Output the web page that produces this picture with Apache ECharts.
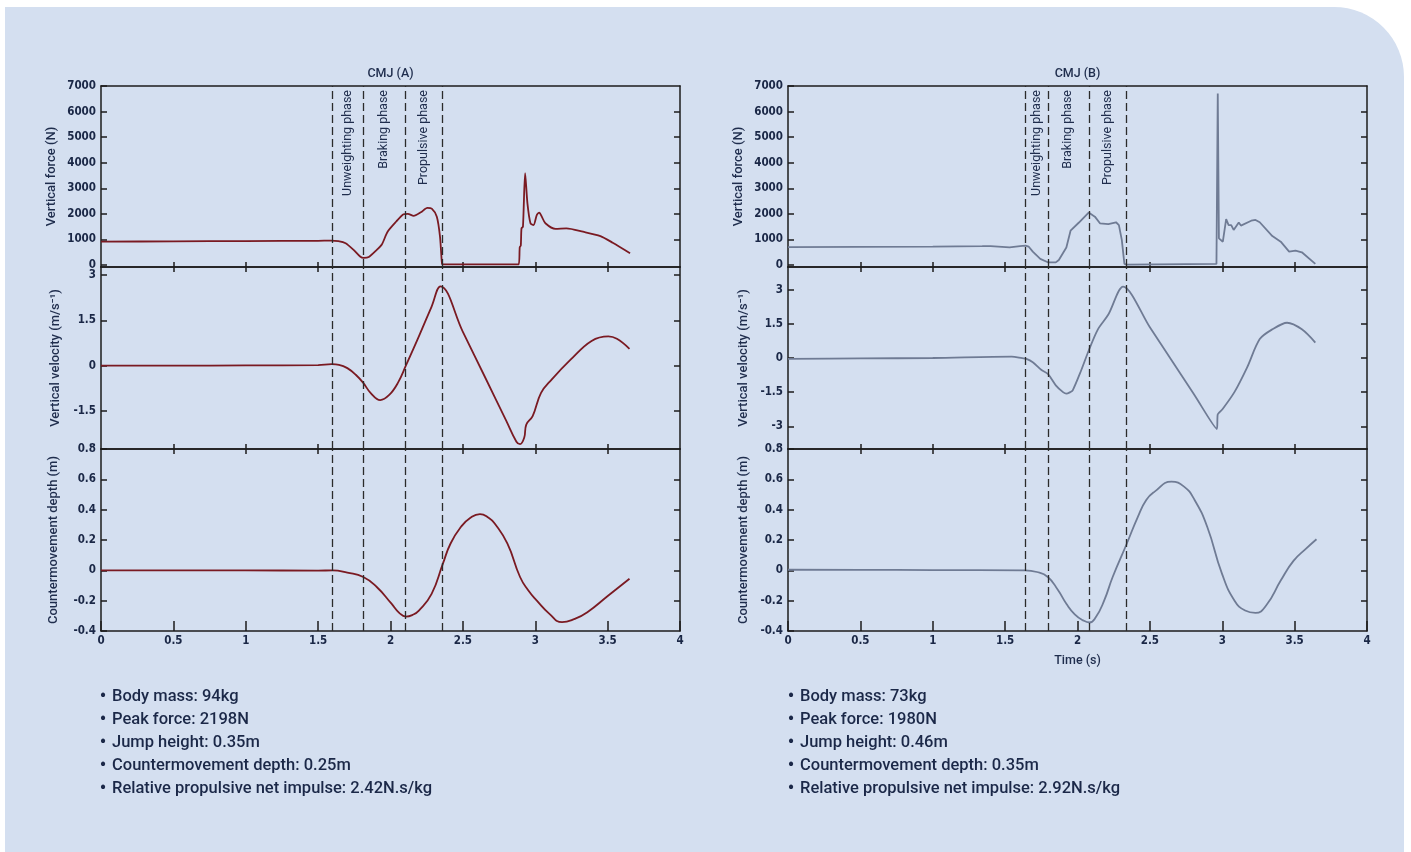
<!DOCTYPE html>
<html><head><meta charset="utf-8">
<script src="https://cdn.jsdelivr.net/npm/echarts@6/dist/echarts.min.js"></script>
<style>
html,body{margin:0;padding:0;background:#fff;width:1411px;height:852px;overflow:hidden;}
#panel{position:absolute;left:5px;top:7px;width:1399px;height:845px;background:#d4dff0;border-top-right-radius:70px;}
#chart{position:absolute;left:0;top:0;width:1411px;height:852px;}
</style></head><body><div id="panel"></div><div id="chart"></div>
<script>
// ---------- data ----------
const titleA = 'CMJ (A)';
const titleB = 'CMJ (B)';
const phaseNames = ['Unweighting phase', 'Braking phase', 'Propulsive phase'];
const phasesA = [1.6, 1.81, 2.105, 2.36];
const phasesB = [1.642, 1.796, 2.077, 2.342];

const forceA = [[0,910],[0.5,925],[1.0,935],[1.5,945],[1.59,955],[1.64,930],[1.69,850],[1.745,590],[1.79,330],[1.815,275],[1.85,310],[1.9,560],[1.94,800],[1.98,1300],[2.04,1700],[2.09,1980],[2.12,2000],[2.16,1920],[2.21,2060],[2.255,2230],[2.285,2200],[2.32,1890],[2.342,1110],[2.356,40],[2.365,25],[2.885,25],[2.893,700],[2.9,750],[2.905,1430],[2.915,1500],[2.93,3590],[2.946,2410],[2.967,1630],[2.988,1560],[3.011,1960],[3.028,2050],[3.045,1890],[3.07,1630],[3.14,1410],[3.215,1430],[3.33,1300],[3.45,1130],[3.535,870],[3.655,460]];
const velA = [[0,0],[0.5,0],[1.0,0.01],[1.5,0.02],[1.594,0.05],[1.644,0.03],[1.702,-0.08],[1.76,-0.3],[1.812,-0.57],[1.862,-0.9],[1.929,-1.14],[1.993,-0.96],[2.051,-0.57],[2.106,0],[2.196,0.97],[2.284,1.96],[2.345,2.63],[2.50,1.12],[2.65,-0.35],[2.80,-1.83],[2.87,-2.52],[2.895,-2.6],[2.924,-2.38],[2.938,-1.95],[2.982,-1.67],[3.04,-0.9],[3.113,-0.46],[3.244,0.2],[3.389,0.82],[3.505,0.97],[3.564,0.89],[3.651,0.56]];
const depthA = [[0,0],[0.5,0],[1.0,0],[1.5,-0.002],[1.6,0],[1.702,-0.015],[1.812,-0.044],[1.905,-0.11],[2.007,-0.22],[2.06,-0.28],[2.106,-0.305],[2.15,-0.295],[2.196,-0.265],[2.284,-0.155],[2.362,0.044],[2.415,0.177],[2.487,0.287],[2.55,0.345],[2.618,0.371],[2.68,0.345],[2.72,0.309],[2.807,0.177],[2.895,-0.044],[2.95,-0.13],[3.011,-0.2],[3.098,-0.287],[3.185,-0.342],[3.273,-0.32],[3.36,-0.276],[3.505,-0.166],[3.651,-0.055]];

const forceB = [[0,700],[0.5,710],[1.0,720],[1.342,735],[1.40,740],[1.531,690],[1.603,740],[1.641,760],[1.662,720],[1.691,520],[1.743,235],[1.795,104],[1.85,100],[1.871,196],[1.923,680],[1.952,1340],[2.01,1660],[2.077,2050],[2.12,1890],[2.155,1630],[2.213,1600],[2.266,1670],[2.286,1560],[2.306,980],[2.324,40],[2.341,15],[2.96,40],[2.969,6710],[2.977,1040],[3.004,910],[3.027,1790],[3.044,1560],[3.062,1560],[3.079,1370],[3.114,1660],[3.129,1540],[3.2,1730],[3.23,1760],[3.259,1670],[3.346,1130],[3.404,910],[3.462,520],[3.506,560],[3.55,495],[3.643,40]];
const velB = [[0,-0.04],[0.5,-0.02],[1.0,0],[1.545,0.06],[1.618,-0.01],[1.647,-0.04],[1.691,-0.19],[1.749,-0.52],[1.795,-0.7],[1.85,-1.2],[1.9,-1.5],[1.923,-1.57],[1.95,-1.5],[1.967,-1.42],[2.025,-0.55],[2.077,0.32],[2.141,1.26],[2.213,1.91],[2.315,3.14],[2.50,1.35],[2.65,-0.10],[2.80,-1.55],[2.963,-3.12],[2.968,-2.5],[2.977,-2.41],[3.004,-2.23],[3.085,-1.49],[3.172,-0.41],[3.259,0.83],[3.346,1.26],[3.448,1.55],[3.55,1.26],[3.643,0.68]];
const depthB = [[0,0.004],[0.5,0.003],[1.0,0.002],[1.633,0],[1.72,-0.011],[1.795,-0.044],[1.865,-0.13],[1.923,-0.22],[1.981,-0.29],[2.039,-0.33],[2.083,-0.344],[2.126,-0.31],[2.184,-0.2],[2.243,-0.044],[2.341,0.177],[2.417,0.353],[2.475,0.464],[2.533,0.519],[2.649,0.585],[2.736,0.552],[2.809,0.464],[2.896,0.287],[2.998,-0.022],[3.085,-0.2],[3.158,-0.265],[3.23,-0.28],[3.303,-0.232],[3.405,-0.066],[3.492,0.062],[3.579,0.143],[3.651,0.205]];

const forceTicks = [0,1000,2000,3000,4000,5000,6000,7000];
const forceInnerTicks = [1000,2000,3000,4000,5000,6000];
const velTicksA = [-1.5,0,1.5,3];
const velTicksB = [-3,-1.5,0,1.5,3];
const depthTicks = [-0.4,-0.2,0,0.2,0.4,0.6,0.8];
const depthInnerTicks = [-0.2,0,0.2,0.4,0.6];
const timeTicks = [0,0.5,1,1.5,2,2.5,3,3.5,4];
const innerTimeTicks = [0.5,1,1.5,2.5,3,3.5];

const statsA = ['Body mass: 94kg','Peak force: 2198N','Jump height: 0.35m','Countermovement depth: 0.25m','Relative propulsive net impulse: 2.42N.s/kg'];
const statsB = ['Body mass: 73kg','Peak force: 1980N','Jump height: 0.46m','Countermovement depth: 0.35m','Relative propulsive net impulse: 2.92N.s/kg'];

// ---------- styling / layout ----------
const INK = '#1f2d4d', FRAME = '#1c1c1c';
const NUMFONT = "'Liberation Sans Narrow','DejaVu Sans Condensed',sans-serif";
const TXTFONT = "Roboto,'Noto Sans',sans-serif";
const LBL = {fontFamily: NUMFONT, fontSize: 11.5, fontWeight: 'bold', color: '#1a2746', formatter: v => String(v)};
const rows = [{top:86,height:181},{top:267,height:182},{top:449,height:182}];
const W = 579;

const grids = [], xAxes = [], yAxes = [], series = [];
const forceXIndex = {};

function addPanel(side, left, row, s) {
  const gi = grids.length;
  grids.push({left: left, top: rows[row].top, width: W, height: rows[row].height});
  const isBottom = row === 2;
  const lineSt = {color: FRAME, width: 1.5};
  const xi = xAxes.length;
  xAxes.push({
    gridIndex: gi, type: 'value', min: 0, max: 4, interval: 0.5, position: 'bottom',
    axisLine: {show: true, onZero: false, lineStyle: lineSt},
    axisTick: {show: true, inside: true, length: isBottom ? 10 : 5, customValues: isBottom ? timeTicks : innerTimeTicks, lineStyle: lineSt},
    axisLabel: isBottom ? Object.assign({margin: 4, customValues: timeTicks, showMinLabel: true, showMaxLabel: true}, LBL) : {show: false},
    splitLine: {show: false},
    name: (isBottom && side === 'B') ? 'Time (s)' : '',
    nameLocation: 'middle', nameGap: 23,
    nameTextStyle: {fontFamily: TXTFONT, fontSize: 12.5, fontWeight: 500, color: INK}
  });
  xAxes.push({
    gridIndex: gi, type: 'value', min: 0, max: 4, interval: 0.5, position: 'top',
    axisLine: {show: true, onZero: false, lineStyle: lineSt},
    axisTick: row > 0 ? {show: true, inside: true, length: 5, customValues: innerTimeTicks, lineStyle: lineSt} : {show: false},
    axisLabel: {show: false}, splitLine: {show: false}
  });
  if (row === 0) forceXIndex[side] = xi;
  const yi = yAxes.length;
  yAxes.push({
    gridIndex: gi, type: 'value', min: s.min, max: s.max, position: 'left',
    axisLine: {show: true, onZero: false, lineStyle: lineSt},
    axisTick: {show: true, inside: true, length: 6, customValues: s.labels, lineStyle: lineSt},
    axisLabel: Object.assign({margin: 5, customValues: s.labels, showMinLabel: true, showMaxLabel: true}, LBL),
    splitLine: {show: false},
    name: s.name, nameLocation: 'middle', nameGap: s.nameGap, nameRotate: 90,
    nameTextStyle: {fontFamily: TXTFONT, fontSize: 13, fontWeight: 500, color: INK}
  });
  yAxes.push({
    gridIndex: gi, type: 'value', min: s.min, max: s.max, position: 'right',
    axisLine: {show: true, onZero: false, lineStyle: lineSt},
    axisTick: {show: true, inside: true, length: 6, customValues: s.inner, lineStyle: lineSt},
    axisLabel: {show: false}, splitLine: {show: false}
  });
  series.push({
    type: 'line', xAxisIndex: xi, yAxisIndex: yi, data: s.data,
    symbol: 'none', showSymbol: false, smooth: s.smooth,
    lineStyle: {color: s.color, width: 1.8}, animation: false, z: 3,
    markLine: {
      silent: true, symbol: ['none','none'], label: {show: false}, animation: false,
      lineStyle: {type: [8,4], color: '#2b2b2b', width: 1.3},
      emphasis: {disabled: true},
      data: s.phases.map(t => ({xAxis: t}))
    }
  });
}

const colA = '#7a1a22', colB = '#6f7b94';
const LA = 101, LB = 788;
addPanel('A', LA, 0, {data: forceA, min: -80, max: 7000, labels: forceTicks, inner: forceInnerTicks, name: 'Vertical force (N)', nameGap: 43, color: colA, smooth: 0.25, phases: phasesA});
addPanel('A', LA, 1, {data: velA, min: -2.76, max: 3.27, labels: velTicksA, inner: velTicksA, name: 'Vertical velocity (m/s\u207B\u00B9)', nameGap: 39, color: colA, smooth: 0.4, phases: phasesA});
addPanel('A', LA, 2, {data: depthA, min: -0.4, max: 0.8, labels: depthTicks, inner: depthInnerTicks, name: 'Countermovement depth (m)', nameGap: 41, color: colA, smooth: 0.5, phases: phasesA});
addPanel('B', LB, 0, {data: forceB, min: -80, max: 7000, labels: forceTicks, inner: forceInnerTicks, name: 'Vertical force (N)', nameGap: 43, color: colB, smooth: false, phases: phasesB});
addPanel('B', LB, 1, {data: velB, min: -4, max: 4, labels: velTicksB, inner: velTicksB, name: 'Vertical velocity (m/s\u207B\u00B9)', nameGap: 38, color: colB, smooth: 0.3, phases: phasesB});
addPanel('B', LB, 2, {data: depthB, min: -0.4, max: 0.8, labels: depthTicks, inner: depthInnerTicks, name: 'Countermovement depth (m)', nameGap: 38, color: colB, smooth: 0.5, phases: phasesB});

const chart = echarts.init(document.getElementById('chart'), null, {renderer: 'canvas'});
chart.setOption({
  backgroundColor: 'transparent',
  animation: false,
  grid: grids, xAxis: xAxes, yAxis: yAxes, series: series
});

// ---------- text: titles, phase labels, stats ----------
const graphics = [];
function txt(x, y, text, opts) {
  return Object.assign({
    type: 'text', x: x, y: y, silent: true,
    style: Object.assign({text: text, fill: INK, fontFamily: TXTFONT, fontSize: 12, fontWeight: 500,
      align: 'center', verticalAlign: 'middle', textAlign: 'center', textVerticalAlign: 'middle'}, opts && opts.style || {})
  }, opts && opts.el || {});
}
graphics.push(txt(LA + W/2, 74, titleA, {style: {fontSize: 12.5}}));
graphics.push(txt(LB + W/2, 74, titleB, {style: {fontSize: 12.5}}));
[['A', phasesA], ['B', phasesB]].forEach(([side, ph]) => {
  for (let i = 0; i < 3; i++) {
    const xm = chart.convertToPixel({xAxisIndex: forceXIndex[side]}, (ph[i] + ph[i+1]) / 2);
    graphics.push(txt(xm, 90, phaseNames[i], {
      el: {rotation: Math.PI / 2},
      style: {align: 'right', textAlign: 'right', fontSize: 12.5, fontWeight: 400}
    }));
  }
});
[[statsA, 100], [statsB, 788]].forEach(([lines, x0]) => {
  lines.forEach((t, i) => {
    const y = 697 + i * 23;
    graphics.push(txt(x0 + 3, y, '\u2022', {
      style: {align: 'center', textAlign: 'center', fontSize: 18, fontWeight: 700, fill: '#1b2848'}
    }));
    graphics.push(txt(x0 + 12, y, t, {
      style: {align: 'left', textAlign: 'left', fontSize: 16.5, fontWeight: 500, fill: '#1b2848'}
    }));
  });
});
chart.setOption({graphic: graphics});
</script>
</body></html>
